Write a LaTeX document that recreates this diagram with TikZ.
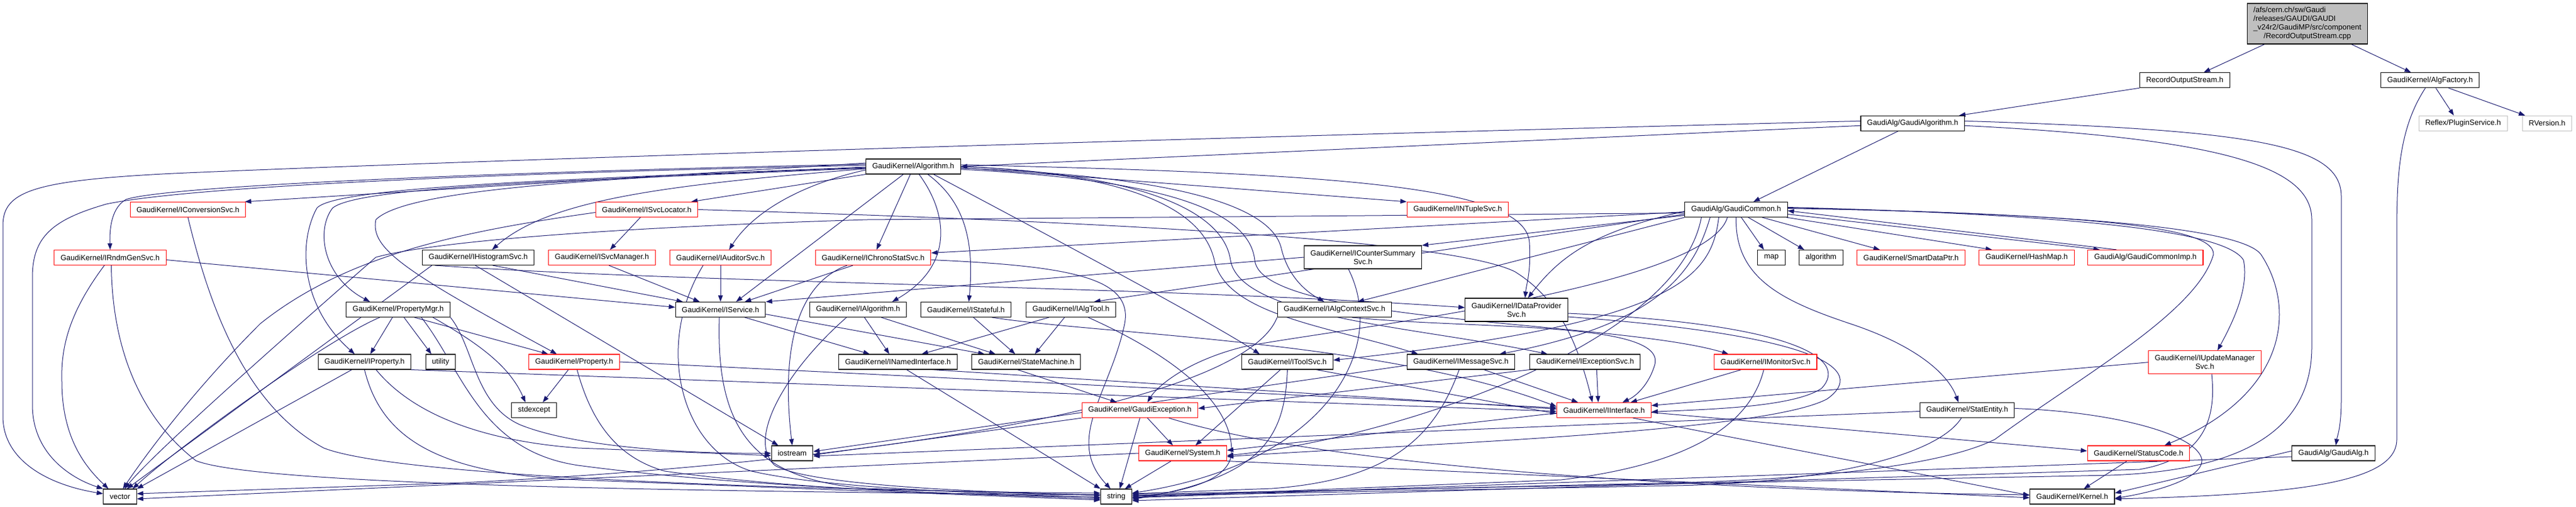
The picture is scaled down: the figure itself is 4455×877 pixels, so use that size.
\documentclass[tikz,border=0pt]{standalone}
\usepackage{fontspec}
\newfontfamily\dxf{Liberation Sans}
\usetikzlibrary{arrows.meta}
\pgfdeclarelayer{bg}
\pgfsetlayers{bg,main}
\definecolor{edgec}{RGB}{25,25,112}
\definecolor{grayb}{RGB}{191,191,191}
\begin{document}
\begin{tikzpicture}[x=1pt,y=-1pt,
  nb/.style={draw=black, fill=white, line width=1.1pt, minimum height=26pt, inner xsep=11pt, inner ysep=5pt, font=\dxf\fontsize{13}{15}\selectfont, align=center},
  nr/.style={nb, draw=red},
  ng/.style={nb, draw=grayb},
  e/.style={draw=edgec, line width=1pt, line join=round, -{Triangle[length=11pt,width=8pt]}}]
\useasboundingbox (0,0) rectangle (4455,877);
% nodes
\node[nb,fill=grayb,minimum height=70pt] (root) at (3990.4,41) {\begin{tabular}{@{}l@{}}/afs/cern.ch/sw/Gaudi\\/releases/GAUDI/GAUDI\\\_v24r2/GaudiMP/src/component\\\multicolumn{1}{@{}c@{}}{/RecordOutputStream.cpp}\end{tabular}};
\node[nb] (ros) at (3778.3,138.7) {RecordOutputStream.h};
\node[nb] (algf) at (4202.5,138.7) {GaudiKernel/AlgFactory.h};
\node[nb] (galgo) at (3307.7,213.3) {GaudiAlg/GaudiAlgorithm.h};
\node[ng] (plug) at (4259.7,213.3) {Reflex/PluginService.h};
\node[ng] (rver) at (4405,213.3) {RVersion.h};
\node[nb] (algo) at (1579.4,288) {GaudiKernel/Algorithm.h};
\node[nr] (conv) at (325,362.5) {GaudiKernel/IConversionSvc.h};
\node[nr] (svcloc) at (1118.5,362.5) {GaudiKernel/ISvcLocator.h};
\node[nr] (ntuple) at (2521,362.5) {GaudiKernel/INTupleSvc.h};
\node[nb] (gcommon) at (3002.4,362.5) {GaudiAlg/GaudiCommon.h};
\node[nr] (rndm) at (190.5,445.5) {GaudiKernel/IRndmGenSvc.h};
\node[nb] (histo) at (827,445.5) {GaudiKernel/IHistogramSvc.h};
\node[nr] (svcman) at (1041,445.5) {GaudiKernel/ISvcManager.h};
\node[nr] (auditor) at (1246,445.5) {GaudiKernel/IAuditorSvc.h};
\node[nr] (chrono) at (1510,445.5) {GaudiKernel/IChronoStatSvc.h};
\node[nb,minimum height=40pt] (counter) at (2357,445) {GaudiKernel/ICounterSummary\\Svc.h};
\node[nb] (map) at (3063.5,445.5) {map};
\node[nb] (algorithm) at (3149.3,445.5) {algorithm};
\node[nr] (smart) at (3305,445.5) {GaudiKernel/SmartDataPtr.h};
\node[nr] (hash) at (3505,445.5) {GaudiKernel/HashMap.h};
\node[nr] (gcimp) at (3710.4,445.5) {GaudiAlg/GaudiCommonImp.h};
\node[nb] (propmgr) at (688.7,535.5) {GaudiKernel/PropertyMgr.h};
\node[nb] (iservice) at (1246,535.5) {GaudiKernel/IService.h};
\node[nb] (ialgorithm) at (1484,535.5) {GaudiKernel/IAlgorithm.h};
\node[nb] (istateful) at (1670.5,535.5) {GaudiKernel/IStateful.h};
\node[nb] (ialgtool) at (1852,535.5) {GaudiKernel/IAlgTool.h};
\node[nb] (ialgctx) at (2308,535.5) {GaudiKernel/IAlgContextSvc.h};
\node[nb,minimum height=40pt] (idataprov) at (2622.5,536) {GaudiKernel/IDataProvider\\Svc.h};
\node[nb] (iproperty) at (630.4,626) {GaudiKernel/IProperty.h};
\node[nb] (utility) at (762,626) {utility};
\node[nr] (property) at (993,626) {GaudiKernel/Property.h};
\node[nb] (inamed) at (1553,626) {GaudiKernel/INamedInterface.h};
\node[nb] (statemach) at (1774.7,626) {GaudiKernel/StateMachine.h};
\node[nb] (itoolsvc) at (2226.4,626) {GaudiKernel/IToolSvc.h};
\node[nb] (imsg) at (2526.4,626) {GaudiKernel/IMessageSvc.h};
\node[nb] (iexc) at (2741.3,626) {GaudiKernel/IExceptionSvc.h};
\node[nr] (imon) at (3053.3,626) {GaudiKernel/IMonitorSvc.h};
\node[nr,minimum height=40pt] (iupd) at (3813,626.7) {GaudiKernel/IUpdateManager\\Svc.h};
\node[nb] (stdexcept) at (923.7,709.5) {stdexcept};
\node[nr] (gexc) at (1971.4,709.5) {GaudiKernel/GaudiException.h};
\node[nr] (iinterface) at (2774,709.5) {GaudiKernel/IInterface.h};
\node[nb] (statent) at (3402,709.5) {GaudiKernel/StatEntity.h};
\node[nb] (iostream) at (1370,784) {iostream};
\node[nr] (system) at (2045.4,784) {GaudiKernel/System.h};
\node[nr] (statusc) at (3698.4,784) {GaudiKernel/StatusCode.h};
\node[nb] (gaudialg) at (4035.6,784) {GaudiAlg/GaudiAlg.h};
\node[nb] (vector) at (207.5,859) {vector};
\node[nb] (string) at (1930.5,859) {string};
\node[nb] (kernel) at (3583.8,859) {GaudiKernel/Kernel.h};
% edges
\begin{pgfonlayer}{bg}
\fill[white] (0,0) rectangle (4455,877);
% top
\draw[e] ([xshift=-74pt]root.south) -- ([xshift=33pt]ros.north);
\draw[e] ([xshift=76pt]root.south) -- ([xshift=-33pt]algf.north);
\draw[e] (ros.south west) -- ([xshift=-10pt]galgo.north east);
\draw[e] ([xshift=10pt]algf.south) -- ([xshift=-16pt]plug.north);
\draw[e] ([xshift=32pt]algf.south) -- ([xshift=-38pt]rver.north);
\draw[e] ([xshift=-8pt]algf.south) .. controls (4150,220) and (4145,300) .. (4145,400) -- (4145,760) .. controls (4145,830) and (4000,855) .. ([yshift=-4pt]kernel.east);
% GaudiAlgorithm
\draw[e] ([yshift=-4pt]galgo.west) -- (algo.east);
\draw[e] ([yshift=4pt]galgo.west) .. controls (2000,240) and (800,278) .. (300,300) .. controls (60,312) and (5,330) .. (5,390) -- (5,720) .. controls (5,800) and (90,840) .. ([yshift=5pt]vector.west);
\draw[e] ([xshift=-25pt]galgo.south) -- ([xshift=30pt]gcommon.north);
\draw[e] ([yshift=4pt]galgo.east) .. controls (3900,225) and (4049,250) .. (4049,340) -- (4049,690) .. controls (4049,740) and (4042,755) .. ([xshift=4pt]gaudialg.north);
\draw[e] ([yshift=-4pt]galgo.east) .. controls (3850,240) and (3998,290) .. (3998,380) -- (3998,600) .. controls (3998,760) and (3850,815) .. (3650,822) -- ([yshift=4pt]string.east);
% Algorithm
\draw[e] ([yshift=2pt]algo.west) .. controls (1000,296) and (350,318) .. (184,353) .. controls (90,380) and (56,410) .. (56,480) -- (56,700) .. controls (56,790) and (130,830) .. (vector.north west);
\draw[e] ([yshift=4pt]algo.west) .. controls (1000,294) and (300,318) .. (218,345) .. controls (195,358) and (189,390) .. (rndm.north);
\draw[e] ([yshift=6pt]algo.west) -- ([xshift=-2pt]conv.north east);
\draw[e] (algo.south west) -- ([xshift=-12pt]svcloc.north east);
\draw[e] ([yshift=-4pt]algo.west) .. controls (1150,320) and (950,345) .. ([xshift=24pt]histo.north);
\draw[e] ([xshift=-17pt]algo.south) -- ([xshift=27pt]iservice.north);
\draw[e] ([xshift=-5pt]algo.south) -- ([xshift=6pt]chrono.north);
\draw[e] ([xshift=10pt]algo.south) .. controls (1640,370) and (1650,460) .. ([xshift=59pt]ialgorithm.north);
\draw[e] ([xshift=25pt]algo.south) .. controls (1670,350) and (1685,420) .. ([xshift=5pt]istateful.north);
\draw[e] ([xshift=35pt]algo.south) .. controls (1800,400) and (2100,560) .. ([xshift=-48pt]itoolsvc.north);
\draw[e] (algo.east) .. controls (1950,300) and (2080,360) .. (2100,450) .. controls (2120,545) and (2300,565) .. ([xshift=-74pt]imsg.north);
\draw[e] (algo.east) .. controls (1960,300) and (2115,360) .. (2128,450) .. controls (2145,550) and (2450,565) .. ([xshift=-65pt]iexc.north);
\draw[e] ([yshift=3pt]algo.east) .. controls (2300,300) and (2640,320) .. (2645,420) .. controls (2648,470) and (2640,490) .. ([xshift=15pt]idataprov.north);
\draw[e] ([yshift=-2pt]algo.east) -- (ntuple.north west);
\draw[e] ([yshift=-3pt]algo.east) .. controls (2050,305) and (2200,360) .. (2216,430) .. controls (2228,480) and (2260,505) .. ([xshift=-18pt]ialgctx.north);
\draw[e] ([yshift=-5pt]algo.east) .. controls (2000,310) and (2160,360) .. (2170,450) .. controls (2180,560) and (2800,555) .. ([xshift=-64pt]imon.north);
\draw[e] ([yshift=-3pt]algo.west) .. controls (1000,312) and (620,322) .. (575,360) .. controls (545,400) and (560,480) .. ([xshift=-49pt]propmgr.north);
\draw[e] ([yshift=-1pt]algo.west) .. controls (1000,310) and (580,322) .. (548,360) .. controls (515,420) and (520,530) .. ([xshift=-17pt]iproperty.north);
\draw[e] ([yshift=-6pt]algo.west) .. controls (1380,320) and (1300,370) .. ([xshift=15pt]auditor.north);
\draw[e] ([yshift=-2pt]algo.west) .. controls (1000,308) and (700,330) .. (650,380) .. controls (640,430) and (700,470) .. ([xshift=-30pt]property.north);
% IConversionSvc, IRndmGenSvc
\draw[e] (conv.south) .. controls (360,520) and (420,700) .. (560,775) .. controls (700,830) and (1500,850) .. ([yshift=6pt]string.west);
\draw[e] ([xshift=-10pt]rndm.south) .. controls (120,540) and (105,600) .. (107,660) .. controls (107,760) and (150,810) .. ([xshift=-20pt]vector.north);
\draw[e] ([xshift=2pt]rndm.south) .. controls (194,600) and (240,720) .. (339,797) .. controls (450,840) and (1200,850) .. ([yshift=3pt]string.west);
\draw[e] ([yshift=-4pt]rndm.east) -- ([yshift=4pt]iservice.west);
% IHistogramSvc, ISvcManager, ISvcLocator
\draw[e] ([xshift=25pt]histo.south) -- ([xshift=-65pt]iservice.north);
\draw[e] ([xshift=-5pt]histo.south) -- ([xshift=-24pt]iostream.north);
\draw[e] ([xshift=-80pt]histo.south) -- ([xshift=12pt]vector.north);
\draw[e] ([xshift=-75pt]histo.south) .. controls (1200,490) and (2000,495) .. ([yshift=4pt]idataprov.west);
\draw[e] ([xshift=12pt]svcman.south) -- ([xshift=-36pt]iservice.north);
\draw[e] ([xshift=-11pt]svcloc.south) -- ([xshift=14pt]svcman.north);
\draw[e] ([yshift=-5pt]svcloc.west) .. controls (800,400) and (600,440) .. (450,560) .. controls (330,680) and (250,790) .. ([xshift=5pt]vector.north);
\draw[e] (svcloc.east) .. controls (1800,380) and (2500,410) .. (2620,470) .. controls (2700,520) and (2730,600) .. ([xshift=-20pt]iinterface.north);
% IAuditorSvc, IChronoStatSvc, ICounterSummarySvc
\draw[e] (auditor.south) -- (iservice.north);
\draw[e] ([xshift=-30pt]auditor.south) .. controls (1130,600) and (1180,780) .. (1300,815) .. controls (1450,850) and (1800,855) .. ([yshift=-2pt]string.west);
\draw[e] ([xshift=-35pt]chrono.south) -- ([xshift=42pt]iservice.north);
\draw[e] ([xshift=-45pt]chrono.south) .. controls (1380,490) and (1350,600) .. (iostream.north);
\draw[e] ([yshift=-4pt]chrono.east) .. controls (1850,460) and (1960,480) .. (1945,560) .. controls (1920,680) and (1840,760) .. ([xshift=-10pt]string.north);
\draw[e] (counter.west) -- (iservice.north east);
\draw[e] ([xshift=-25pt]counter.south) .. controls (2400,600) and (2300,800) .. ([yshift=6pt]string.east);
% GaudiCommon
\draw[e] ([xshift=9pt]gcommon.south) -- ([xshift=-13pt]map.north);
\draw[e] ([xshift=21pt]gcommon.south) -- ([xshift=-29pt]algorithm.north);
\draw[e] ([xshift=45pt]gcommon.south) -- ([xshift=-54pt]smart.north);
\draw[e] ([xshift=-2pt]gcommon.south east) -- ([xshift=-60pt]hash.north);
\draw[e] ([yshift=-8pt]gcommon.east) -- ([xshift=-79pt]gcimp.north);
\draw[e] ([xshift=-50pt]gcimp.north) -- ([yshift=-2pt]gcommon.east);
\draw[e] (gcommon.south) .. controls (3000,480) and (3080,520) .. (3200,560) .. controls (3320,600) and (3370,650) .. ([xshift=-15pt]statent.north);
\draw[e] ([yshift=4pt]gcommon.east) .. controls (3600,372) and (3850,400) .. (3880,450) .. controls (3890,500) and (3860,560) .. ([xshift=22pt]iupd.north);
\draw[e] ([yshift=2pt]gcommon.east) .. controls (3650,370) and (3880,400) .. (3910,440) .. controls (3970,530) and (3960,680) .. ([xshift=45pt]statusc.north);
\draw[e] ([yshift=3pt]gcommon.east) .. controls (3600,371) and (3830,390) .. (3828,440) .. controls (3800,540) and (3600,650) .. (3450,760) .. controls (3350,810) and (3100,830) .. (2900,835) -- ([yshift=2pt]string.east);
\draw[e] ([yshift=-4pt]gcommon.west) -- ([yshift=8pt]chrono.east);
\draw[e] ([yshift=-10pt]gcommon.west) -- (counter.north east);
\draw[e] ([yshift=-8pt]gcommon.west) -- ([xshift=40pt]ialgtool.north);
\draw[e] (gcommon.south west) -- ([xshift=40pt]ialgctx.north);
\draw[e] ([yshift=-3pt]gcommon.west) .. controls (2760,400) and (2700,440) .. ([xshift=20pt]idataprov.north);
\draw[e] ([xshift=-45pt]gcommon.south) .. controls (2930,470) and (2870,560) .. ([xshift=67pt]imsg.north);
\draw[e] ([xshift=-30pt]gcommon.south) .. controls (2960,480) and (2900,560) .. ([yshift=3pt]itoolsvc.east);
\draw[e] ([xshift=-15pt]gcommon.south) .. controls (2950,500) and (2300,570) .. (2150,600) .. controls (2050,625) and (2000,670) .. ([xshift=13pt]gexc.north);
\draw[e] ([xshift=-60pt]gcommon.south) .. controls (2900,600) and (2400,760) .. ([yshift=-4pt]system.east);
\draw[e] ([yshift=-6pt]gcommon.west) -- (1500,380) .. controls (1100,392) and (760,415) .. (650,445) .. controls (450,620) and (260,790) .. ([xshift=8pt]vector.north);
% PropertyMgr, IProperty, Property
\draw[e] ([xshift=-10pt]propmgr.south) -- ([xshift=10pt]iproperty.north);
\draw[e] ([xshift=10pt]propmgr.south) -- ([xshift=-16pt]utility.north);
\draw[e] ([xshift=28pt]propmgr.south) -- ([xshift=-45pt]property.north);
\draw[e] ([xshift=60pt]propmgr.south) .. controls (820,590) and (880,630) .. ([xshift=-15pt]stdexcept.north);
\draw[e] (propmgr.south east) .. controls (820,600) and (820,700) .. (900,735) .. controls (1000,775) and (1200,785) .. (iostream.west);
\draw[e] ([xshift=-32pt]propmgr.south) .. controls (560,590) and (300,780) .. ([xshift=22pt]vector.north);
\draw[e] ([xshift=40pt]propmgr.south) .. controls (800,640) and (830,780) .. (1000,805) .. controls (1300,845) and (1700,855) .. ([yshift=-4pt]string.west);
\draw[e] ([xshift=-22pt]iproperty.south) -- (vector.north east);
\draw[e] (iproperty.south east) -- ([yshift=-2pt]iinterface.west);
\draw[e] ([xshift=20pt]iproperty.south) .. controls (700,700) and (800,760) .. (1000,775) -- ([yshift=-4pt]iostream.west);
\draw[e] (iproperty.south) .. controls (660,760) and (760,820) .. (1000,830) -- ([yshift=-6pt]string.west);
\draw[e] ([xshift=-10pt]property.south) -- ([xshift=15pt]stdexcept.north);
\draw[e] ([xshift=5pt]property.south) .. controls (1020,720) and (1060,790) .. (1150,815) .. controls (1400,850) and (1700,856) .. ([yshift=-1pt]string.west);
\draw[e] (property.east) -- ([yshift=4pt]iinterface.west);
% INamedInterface, StateMachine, IService, IAlgorithm, IStateful, IAlgTool
\draw[e] ([xshift=15pt]inamed.south) -- (string.north west);
\draw[e] ([xshift=60pt]inamed.south) -- ([yshift=2pt]iinterface.west);
\draw[e] ([xshift=-15pt]statemach.south) -- ([xshift=-40pt]gexc.north);
\draw[e] ([xshift=42pt]iservice.south) -- ([xshift=-49pt]inamed.north);
\draw[e] ([yshift=-8pt]iservice.east) -- ([xshift=-72pt]statemach.north);
\draw[e] ([xshift=-2pt]iservice.south) .. controls (1238,740) and (1300,830) .. (1500,845) -- ([yshift=2pt]string.west);
\draw[e] ([xshift=11pt]ialgorithm.south) -- ([xshift=-15pt]inamed.north);
\draw[e] ([xshift=40pt]ialgorithm.south) -- ([xshift=-53pt]statemach.north);
\draw[e] ([xshift=-20pt]ialgorithm.south) .. controls (1360,640) and (1290,760) .. (1340,805) .. controls (1400,840) and (1700,852) .. ([yshift=3pt]string.west);
\draw[e] ([xshift=13pt]istateful.south) -- ([xshift=-19pt]statemach.north);
\draw[e] ([xshift=45pt]istateful.south) .. controls (1900,578) and (2400,590) .. ([yshift=6pt]iinterface.west);
\draw[e] ([xshift=-38pt]ialgtool.south) -- ([xshift=41pt]inamed.north);
\draw[e] ([xshift=-11pt]ialgtool.south) -- ([xshift=15pt]statemach.north);
\draw[e] ([xshift=30pt]ialgtool.south) .. controls (2040,620) and (2130,700) .. (2130,780) .. controls (2130,840) and (2020,852) .. ([yshift=-3pt]string.east);
% IAlgContextSvc, IDataProviderSvc
\draw[e] ([xshift=30pt]ialgctx.south) .. controls (2550,570) and (2880,555) .. (2862,630) .. controls (2852,665) and (2830,685) .. ([xshift=32pt]iinterface.north);
\draw[e] (ialgctx.south west) .. controls (2150,700) and (1500,800) .. (800,835) -- ([yshift=5pt]vector.east);
\draw[e] ([yshift=-6pt]idataprov.east) .. controls (3100,560) and (3200,620) .. (3150,672) .. controls (3100,705) and (2950,708) .. ([yshift=-3pt]iinterface.east);
\draw[e] ([yshift=-12pt]idataprov.east) .. controls (3150,580) and (3230,640) .. (3160,690) .. controls (3050,750) and (2400,770) .. ([yshift=-6pt]system.east);
% IToolSvc, IMessageSvc, IExceptionSvc, IMonitorSvc, IUpdateManagerSvc
\draw[e] ([xshift=50pt]itoolsvc.south) -- ([yshift=-6pt]iinterface.west);
\draw[e] ([xshift=-12pt]itoolsvc.south) -- ([xshift=22pt]system.north);
\draw[e] (itoolsvc.south) .. controls (2222,760) and (2180,825) .. ([yshift=-5pt]string.east);
\draw[e] ([xshift=40pt]imsg.south) -- ([xshift=-45pt]iinterface.north);
\draw[e] ([xshift=-3pt]imsg.south) .. controls (2480,760) and (2400,830) .. (2200,845) -- ([yshift=5pt]string.east);
\draw[e] ([yshift=-6pt]imsg.west) -- ([yshift=3pt]iostream.east);
\draw[e] ([xshift=20pt]iexc.south) -- ([xshift=-10pt]iinterface.north);
\draw[e] (iexc.south west) -- ([yshift=3pt]gexc.east);
\draw[e] ([xshift=-42pt]imon.south) -- ([xshift=46pt]iinterface.north);
\draw[e] ([xshift=-3pt]imon.south) .. controls (3030,720) and (2950,800) .. (2700,830) -- ([yshift=-1pt]string.east);
\draw[e] (iupd.west) -- ([yshift=8pt]iinterface.east);
\draw[e] ([xshift=12pt]iupd.south) .. controls (3830,700) and (3830,790) .. (3700,812) -- ([yshift=-7pt]string.east);
% GaudiException, IInterface, System
\draw[e] ([xshift=13pt]gexc.south) -- ([xshift=-17pt]system.north);
\draw[e] (gexc.south) -- ([xshift=6pt]string.north);
\draw[e] (gexc.south west) -- ([yshift=-3pt]iostream.east);
\draw[e] ([xshift=50pt]gexc.south) .. controls (2300,810) and (3000,850) .. ([yshift=3pt]kernel.west);
\draw[e] ([yshift=-5pt]iinterface.west) -- ([yshift=5pt]system.east);
\draw[e] ([yshift=-4pt]iinterface.east) -- ([yshift=4pt]statusc.west);
\draw[e] ([xshift=50pt]iinterface.south) -- ([yshift=2pt]kernel.west);
\draw[e] ([xshift=-20pt]system.south) -- ([xshift=15pt]string.north);
\draw[e] (system.south east) -- ([yshift=-2pt]kernel.west);
\draw[e] (system.west) -- ([yshift=-4pt]vector.east);
% StatEntity, StatusCode, GaudiAlg
\draw[e] ([yshift=3pt]statent.east) .. controls (3650,712) and (3800,750) .. (3808,795) .. controls (3810,830) and (3720,852) .. ([yshift=-3pt]kernel.east);
\draw[e] ([yshift=-2pt]statent.west) -- ([yshift=-5pt]iostream.east);
\draw[e] ([xshift=-10pt]statent.south) .. controls (3350,790) and (3150,835) .. (2900,840) -- ([yshift=1pt]string.east);
\draw[e] ([xshift=-20pt]statusc.south) -- ([xshift=20pt]kernel.north);
\draw[e] ([yshift=4pt]gaudialg.west) -- ([yshift=6pt]kernel.east);
\draw[e] ([yshift=-6pt]gaudialg.west) -- ([yshift=-2pt]string.east);
\end{pgfonlayer}
\end{tikzpicture}
\end{document}
